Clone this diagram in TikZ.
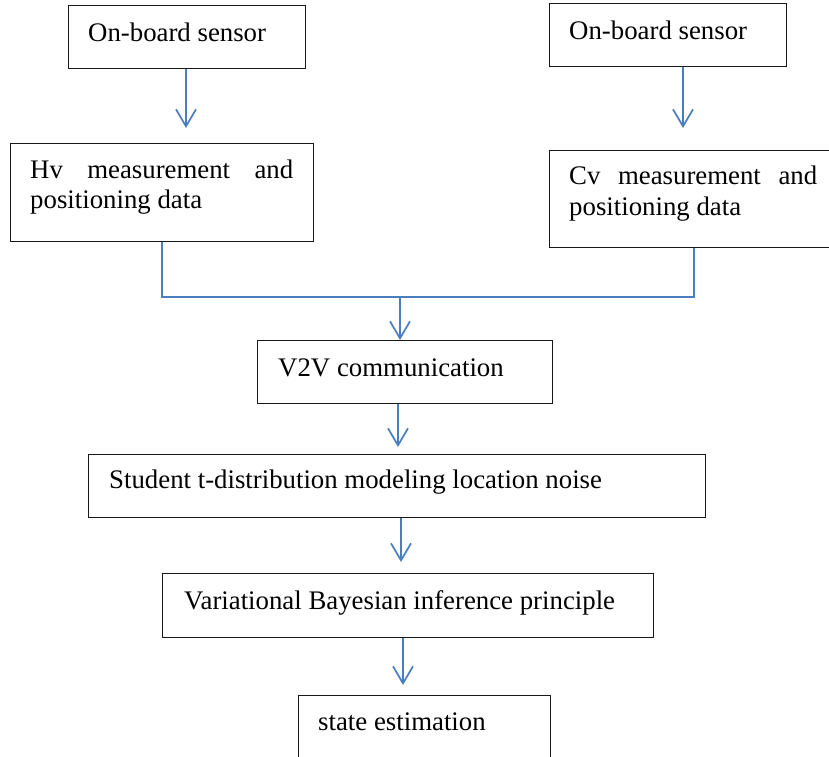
\documentclass[tikz,border=0pt]{standalone}
\usepackage{fontspec}
\setmainfont{Liberation Serif}
\usetikzlibrary{arrows.meta}
\definecolor{lineblue}{RGB}{74,126,190}
\begin{document}
\begin{tikzpicture}[x=1pt,y=-1pt,
  box/.style={draw=black!90, line width=1.3pt, inner sep=0pt, anchor=north west},
  lbl/.style={anchor=base west, inner sep=0pt, font=\fontsize{26.8}{31}\selectfont},
  conn/.style={draw=lineblue, line width=1.7pt},
  arr/.style={conn, -{Straight Barb[length=17pt,width=20pt,line width=1.7pt]}}]
\useasboundingbox (0,0) rectangle (829,756);
\clip (0,0) rectangle (829,756);
% boxes
\node[box, minimum width=237pt, minimum height=63pt] (s1) at (68,5) {};
\node[box, minimum width=237pt, minimum height=63pt] (s2) at (549,3) {};
\node[box, minimum width=303pt, minimum height=98pt] (hv) at (10,143) {};
\node[box, minimum width=303pt, minimum height=97pt] (cv) at (549,150) {};
\node[box, minimum width=295pt, minimum height=63pt] (v2v) at (257,340) {};
\node[box, minimum width=617pt, minimum height=63pt] (st) at (88,454) {};
\node[box, minimum width=491pt, minimum height=64pt] (vb) at (162,573) {};
\node[box, minimum width=252pt, minimum height=64pt] (se) at (298,695) {};
% texts
\node[lbl] (t1) at (88,41) {On-board sensor};
\node[lbl] (t2) at (569,39) {On-board sensor};
\node[lbl] (t3) at (30,178) {\parbox[t]{263pt}{\baselineskip=30pt Hv\hfill measurement\hfill and\\positioning data}};
\node[lbl] (t4) at (569,184) {\parbox[t]{248pt}{\baselineskip=31pt Cv\hfill measurement\hfill and\\positioning data}};
\node[lbl] (t5) at (278,376) {V2V communication};
\node[lbl] (t6) at (109,488) {Student t-distribution modeling location noise};
\node[lbl] (t7) at (184,609) {Variational Bayesian inference principle};
\node[lbl] (t8) at (318,730) {state estimation};
% helper coordinates
\coordinate (x1) at (186,0);
\coordinate (x2) at (683,0);
\coordinate (jl) at (162,297);
\coordinate (jr) at (694,297);
\coordinate (jm) at (400,297);
\coordinate (x3) at (398,0);
\coordinate (x4) at (401,0);
\coordinate (x5) at (403,0);
% connectors
\draw[arr, shorten >=15pt] (s1.south -| x1) -- (hv.north -| x1);
\draw[arr, shorten >=22pt] (s2.south -| x2) -- (cv.north -| x2);
\draw[conn] (hv.south -| jl) -- (jl) -- (jr) -- (cv.south -| jr);
\draw[arr] (jm) -- (v2v.north -| jm);
\draw[arr, shorten >=7pt] (v2v.south -| x3) -- (st.north -| x3);
\draw[arr, shorten >=11pt] (st.south -| x4) -- (vb.north -| x4);
\draw[arr, shorten >=10pt] (vb.south -| x5) -- (se.north -| x5);
\end{tikzpicture}
\end{document}
